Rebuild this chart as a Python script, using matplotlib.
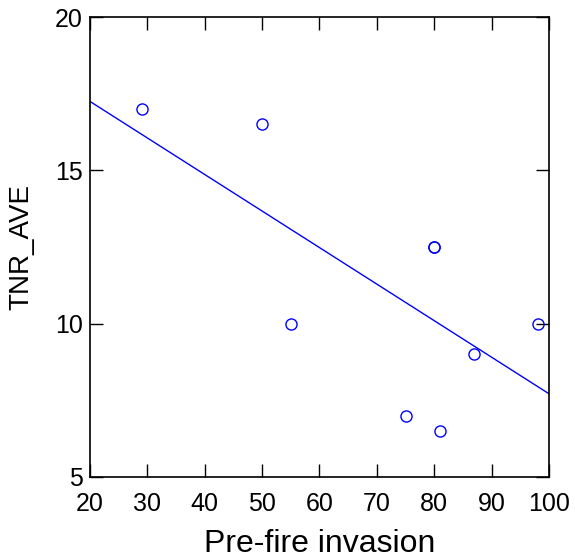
import matplotlib.pyplot as plt
import numpy as np

plt.rcParams['font.family'] = ['Liberation Sans', 'DejaVu Sans']

invasion = np.array([29, 50, 55, 75, 80, 80, 81, 87, 98])
tnr_ave = np.array([17, 16.5, 10, 7, 12.5, 12.5, 6.5, 9, 10])

xticks = [20, 30, 40, 50, 60, 70, 80, 90, 100]
yticks = [5, 10, 15, 20]

fig = plt.figure(figsize=(5.75, 5.58), dpi=100)
ax = fig.add_axes([0.1565, 0.1452, 0.7983, 0.8243])

ax.plot(invasion, tnr_ave, 'o', markerfacecolor='none', markeredgecolor='blue',
        markersize=8, markeredgewidth=1)

# least squares fit across the full x range
slope, intercept = np.polyfit(invasion, tnr_ave, 1)
fit_x = np.array([20, 100])
ax.plot(fit_x, slope * fit_x + intercept, color='blue', linewidth=1)

ax.set_xlim(20, 100)
ax.set_ylim(5, 20)
ax.set_xticks(xticks)
ax.set_yticks(yticks)
ax.tick_params(direction='in', length=9.5, width=1, labelsize=18,
               top=True, right=True)
ax.tick_params(axis='x', pad=11)
ax.tick_params(axis='y', pad=5)
for s in ax.spines.values():
    s.set_linewidth(1.2)

ax.set_xlabel('Pre-fire invasion', fontsize=23, labelpad=9)
ax.set_ylabel('TNR_AVE', fontsize=20, labelpad=15)

plt.savefig('out.png', dpi=100)
